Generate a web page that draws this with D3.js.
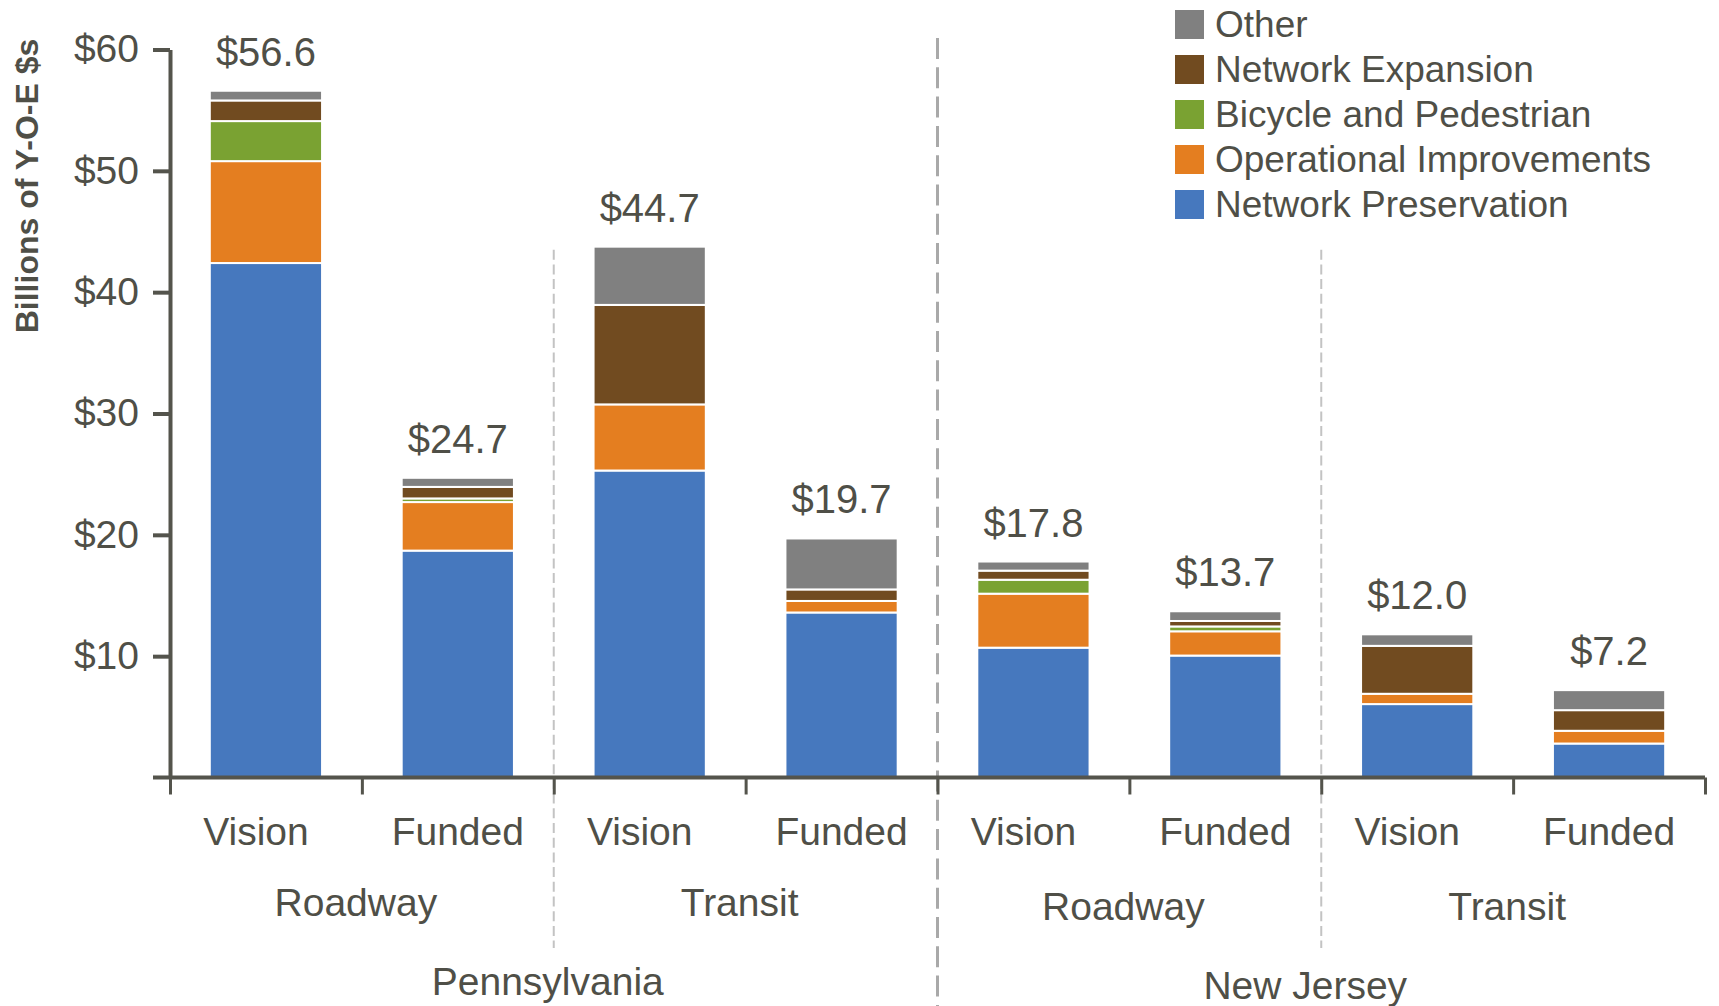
<!DOCTYPE html>
<html>
<head>
<meta charset="utf-8">
<script src="https://cdn.jsdelivr.net/npm/d3@7"></script>
<style>
  body { margin: 0; background: #fff; }
  text { font-family: "Liberation Sans", Arial, sans-serif; fill: #4f4f47; }
</style>
</head>
<body>
<div id="myData"></div>
<script>
// bars left to right
var plans = ["Vision", "Funded", "Vision", "Funded", "Vision", "Funded", "Vision", "Funded"];
var modes = ["Roadway", "Transit", "Roadway", "Transit"];
var states = ["Pennsylvania", "New Jersey"];
var totalLabels = ["$56.6", "$24.7", "$44.7", "$19.7", "$17.8", "$13.7", "$12.0", "$7.2"];

// stacked bottom to top, billions of Y-O-E $
var seriesNames = ["Network Preservation", "Operational Improvements", "Bicycle and Pedestrian", "Network Expansion", "Other"];
var preservation = [42.4, 18.7, 25.3, 13.6, 10.7, 10.05, 6.05, 2.8];
var operational  = [8.4, 4.0, 5.45, 0.95, 4.45, 2.0, 0.85, 1.05];
var bicycle      = [3.3, 0.3, 0, 0, 1.15, 0.4, 0, 0];
var expansion    = [1.7, 0.95, 8.2, 0.95, 0.75, 0.45, 3.95, 1.7];
var other        = [0.8, 0.75, 4.8, 4.2, 0.75, 0.8, 0.95, 1.65];
var colors = ["#4678be", "#e47e20", "#7aa232", "#714b20", "#808080"];

var yTicks = [10, 20, 30, 40, 50, 60];

var width = 1719, height = 1006;
var margin = {top: 49.5, right: 14, bottom: 228.5, left: 170};
var axisColor = "#54544c";

var svg = d3.select("#myData")
  .append("svg")
    .attr("width", width)
    .attr("height", height);

var x = d3.scaleBand()
  .domain(d3.range(plans.length))
  .range([margin.left, width - margin.right])
  .paddingInner(0.415)
  .paddingOuter(0.2075);

// category boundaries (0..8)
var xb = d3.scaleLinear()
  .domain([0, plans.length])
  .range([margin.left, width - margin.right]);

var y = d3.scaleLinear()
  .domain([0, 60])
  .range([height - margin.bottom, margin.top]);

var allSeries = [preservation, operational, bicycle, expansion, other];
var rows = plans.map(function(p, i) {
  var r = {};
  seriesNames.forEach(function(k, j) { r[k] = allSeries[j][i]; });
  return r;
});
var stacked = d3.stack().keys(seriesNames)(rows);

// dashed group separators
[2, 6].forEach(function(b) {
  svg.append("line")
    .attr("x1", xb(b)).attr("x2", xb(b))
    .attr("y1", y(43.5)).attr("y2", 948)
    .attr("stroke", "#c3c3c3")
    .attr("stroke-width", 2)
    .attr("stroke-dasharray", "10,4.7");
});
svg.append("line")
  .attr("x1", xb(4)).attr("x2", xb(4))
  .attr("y1", 38).attr("y2", height)
  .attr("stroke", "#a9a9a9")
  .attr("stroke-width", 3)
  .attr("stroke-dasharray", "21,8.3");

// bars
svg.append("g")
  .selectAll("g")
  .data(stacked)
  .enter().append("g")
    .attr("fill", function(d, i) { return colors[i]; })
  .selectAll("rect")
  .data(function(d) { return d.map(function(v, i) { return {i: i, v: v}; }).filter(function(e) { return e.v[1] - e.v[0] > 0; }); })
  .enter().append("rect")
    .attr("x", function(d) { return x(d.i); })
    .attr("width", x.bandwidth())
    .attr("y", function(d) { return y(d.v[1]); })
    .attr("height", function(d) { return y(d.v[0]) - y(d.v[1]); })
    .attr("stroke", "#fff")
    .attr("stroke-width", 2);

// total labels
svg.append("g")
  .selectAll("text")
  .data(plans)
  .enter().append("text")
    .attr("x", function(d, i) { return x(i) + x.bandwidth() / 2; })
    .attr("y", function(d, i) { return y(stacked[stacked.length - 1][i][1]) - 25; })
    .attr("text-anchor", "middle")
    .style("font-size", "40px")
    .text(function(d, i) { return totalLabels[i]; });

// y axis
var yAxis = svg.append("g")
  .attr("transform", "translate(" + margin.left + ",0)")
  .call(d3.axisLeft(y).tickValues(yTicks).tickSize(17).tickSizeOuter(0).tickPadding(14)
    .tickFormat(function(d) { return "$" + d; }));
yAxis.select(".domain").attr("stroke", axisColor).attr("stroke-width", 4);
yAxis.selectAll(".tick line").attr("stroke", axisColor).attr("stroke-width", 4);
yAxis.selectAll(".tick text")
  .style("font-size", "39px")
  .style("font-family", "'Liberation Sans', Arial, sans-serif")
  .attr("fill", "#4f4f47");

// x axis baseline and boundary ticks
var xAxis = svg.append("g")
  .attr("transform", "translate(0," + y(0) + ")")
  .call(d3.axisBottom(xb).tickValues(d3.range(plans.length + 1)).tickSize(17).tickFormat(""));
xAxis.select(".domain").remove();
xAxis.selectAll(".tick line").attr("stroke", axisColor).attr("stroke-width", 3);
svg.append("line")
  .attr("x1", margin.left - 17).attr("x2", width - margin.right)
  .attr("y1", y(0)).attr("y2", y(0))
  .attr("stroke", axisColor)
  .attr("stroke-width", 4);

// category labels, three levels
svg.append("g")
  .selectAll("text")
  .data(plans)
  .enter().append("text")
    .attr("x", function(d, i) { return x(i) + x.bandwidth() / 2 - (i % 2 ? 0 : 10); })
    .attr("y", 845)
    .attr("text-anchor", "middle")
    .style("font-size", "39px")
    .text(function(d) { return d; });

svg.append("g")
  .selectAll("text")
  .data(modes)
  .enter().append("text")
    .attr("x", function(d, i) { return (xb(i * 2) + xb(i * 2 + 2)) / 2 - 6; })
    .attr("y", function(d, i) { return i < 2 ? 916 : 920; })
    .attr("text-anchor", "middle")
    .style("font-size", "39px")
    .text(function(d) { return d; });

svg.append("g")
  .selectAll("text")
  .data(states)
  .enter().append("text")
    .attr("x", function(d, i) { return (xb(i * 4) + xb(i * 4 + 4)) / 2 - 6 - 10 * i; })
    .attr("y", function(d, i) { return i ? 999 : 995; })
    .attr("text-anchor", "middle")
    .style("font-size", "39px")
    .text(function(d) { return d; });

// y title
svg.append("text")
  .attr("transform", "translate(38,186) rotate(-90)")
  .attr("text-anchor", "middle")
  .style("font-size", "32px")
  .style("font-weight", "bold")
  .text("Billions of Y-O-E $s");

// legend, top entry is the top of the stack
var legend = svg.append("g")
  .attr("transform", "translate(1175,10)");
var legendItems = seriesNames.slice().reverse();
var legendColors = colors.slice().reverse();
legend.selectAll("rect")
  .data(legendItems)
  .enter().append("rect")
    .attr("x", 0)
    .attr("y", function(d, i) { return i * 45; })
    .attr("width", 29)
    .attr("height", 29)
    .attr("fill", function(d, i) { return legendColors[i]; });
legend.selectAll("text")
  .data(legendItems)
  .enter().append("text")
    .attr("x", 40)
    .attr("y", function(d, i) { return i * 45 + 27; })
    .style("font-size", "37px")
    .text(function(d) { return d; });
</script>
</body>
</html>
